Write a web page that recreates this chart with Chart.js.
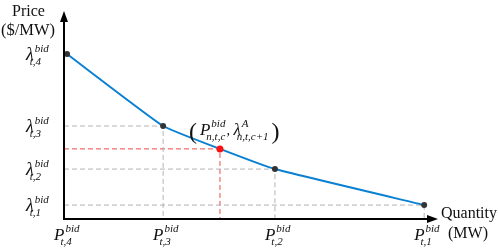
<!DOCTYPE html>
<html><head><meta charset="utf-8">
<script src="https://cdn.jsdelivr.net/npm/chart.js@4/dist/chart.umd.min.js"></script>
<style>html,body{margin:0;padding:0;background:#fff}#wrap{width:498px;height:250px}</style>
</head><body><div id="wrap"><canvas id="c" width="498" height="250"></canvas></div>
<script>
// Bid curve: steps 4,3,(cleared point),2,1
const quantities = [0.8, 26.5, 41.7, 56.4, 96.3];
const prices = [79.3, 44.7, 33.7, 24.0, 6.7];
const stepIds = ['4', '3', null, '2', '1'];
const clearedIndex = 2;
const yTitle = ['Price', '($/MW)'];
const xTitle = ['Quantity', '(MW)'];
const supBid = 'bid';
const annotation = {P: 'P', Psup: 'bid', Psub: 'n,t,c', L: 'λ', Lsup: 'A', Lsub: 'n,t,c+1'};

const SERIF = '"Liberation Serif", "Times New Roman", serif';
const pts = quantities.map((q, i) => ({x: q, y: prices[i]}));

function guide(i, color) {
  return {
    data: [{x: 0, y: prices[i]}, {x: quantities[i], y: prices[i]}, {x: quantities[i], y: 0}],
    showLine: true, borderColor: color, borderWidth: 1, borderDash: [5, 3],
    pointRadius: 0, tension: 0, order: 3
  };
}
const datasets = [];
stepIds.forEach((s, i) => { if (s && i > 0) datasets.push(guide(i, '#b4b4b4')); });
datasets.push(guide(clearedIndex, '#f04848'));
datasets.push({
  data: pts, showLine: true, borderColor: '#0a80d2', borderWidth: 2, tension: 0.12,
  pointRadius: stepIds.map(s => s ? 3 : 0), pointBackgroundColor: '#333', pointBorderWidth: 0,
  order: 1
});
datasets.push({
  data: [pts[clearedIndex]], showLine: false, pointRadius: 3.5,
  pointBackgroundColor: '#ff1010', pointBorderWidth: 0, order: 0
});

function sym(ctx, x, y, base, sup, sub, size, subShift) {
  ctx.font = `italic ${size}px ${SERIF}`;
  ctx.fillText(base, x, y);
  const w = ctx.measureText(base).width;
  const s = Math.round(size * 0.62);
  ctx.font = `italic ${s}px ${SERIF}`;
  const sw = ctx.measureText(sup).width;
  ctx.fillText(sup, x + w + 1, y - size * 0.45);
  ctx.fillText(sub, x + w - (subShift || 3), y + size * 0.3);
  const bw = ctx.measureText(sub).width;
  return Math.max(w + 1 + sw, w - (subShift || 3) + bw);
}

const decor = {
  id: 'decor',
  afterDatasetsDraw(chart) {
    const ctx = chart.ctx, xs = chart.scales.x, ys = chart.scales.y, a = chart.chartArea;
    const x0 = xs.getPixelForValue(0), y0 = ys.getPixelForValue(0);
    ctx.save();
    // axes
    ctx.strokeStyle = '#000'; ctx.fillStyle = '#000'; ctx.lineWidth = 2;
    ctx.beginPath(); ctx.moveTo(x0, y0); ctx.lineTo(x0, a.top + 8); ctx.stroke();
    ctx.beginPath(); ctx.moveTo(x0 - 1, y0); ctx.lineTo(a.right - 8, y0); ctx.stroke();
    ctx.beginPath(); ctx.moveTo(x0, a.top); ctx.lineTo(x0 - 4, a.top + 11); ctx.lineTo(x0 + 4, a.top + 11); ctx.closePath(); ctx.fill();
    ctx.beginPath(); ctx.moveTo(a.right, y0); ctx.lineTo(a.right - 11, y0 - 4); ctx.lineTo(a.right - 11, y0 + 4); ctx.closePath(); ctx.fill();
    // titles
    ctx.fillStyle = '#111';
    ctx.textBaseline = 'alphabetic'; ctx.textAlign = 'left';
    ctx.font = `16px ${SERIF}`;
    ctx.fillText(yTitle[0], 12, 16);
    ctx.font = `16.5px ${SERIF}`;
    ctx.fillText(yTitle[1], 1, 35);
    ctx.font = `16px ${SERIF}`;
    ctx.fillText(xTitle[0], a.right + 3, y0 - 1);
    ctx.fillText(xTitle[1], a.right + 10, y0 + 19);
    // step labels
    stepIds.forEach((s, i) => {
      if (!s) return;
      const px = xs.getPixelForValue(quantities[i]);
      const py = ys.getPixelForValue(prices[i]);
      sym(ctx, 26, py + 6, 'λ', supBid, 't,' + s, 18, 4);
      sym(ctx, (i === 0 ? x0 : px) - 10, y0 + 21, 'P', supBid, 't,' + s, 17, 4);
    });
    // annotation at cleared point
    const cx = xs.getPixelForValue(quantities[clearedIndex]);
    const cy = ys.getPixelForValue(prices[clearedIndex]);
    let ax = cx - 31, ay = cy - 14;
    ctx.font = `24px ${SERIF}`;
    ctx.fillText('(', ax, ay + 4);
    ax += ctx.measureText('(').width + 3;
    ax += sym(ctx, ax, ay, annotation.P, annotation.Psup, annotation.Psub, 17, 4);
    ctx.font = `italic 14px ${SERIF}`;
    ctx.fillText(',', ax + 1, ay);
    ax += 8;
    ax += sym(ctx, ax, ay, annotation.L, annotation.Lsup, annotation.Lsub, 17, 4);
    ctx.font = `24px ${SERIF}`;
    ctx.fillText(')', ax + 3, ay + 4);
    ctx.restore();
  }
};

new Chart(document.getElementById('c'), {
  type: 'scatter',
  data: {datasets},
  options: {
    responsive: false, animation: false, devicePixelRatio: 1,
    layout: {padding: {left: 64, right: 60, top: 11, bottom: 31}},
    plugins: {legend: {display: false}, tooltip: {enabled: false}},
    scales: {
      x: {type: 'linear', min: 0, max: 100, display: false},
      y: {type: 'linear', min: 0, max: 100, display: false}
    }
  },
  plugins: [decor]
});
</script></body></html>
